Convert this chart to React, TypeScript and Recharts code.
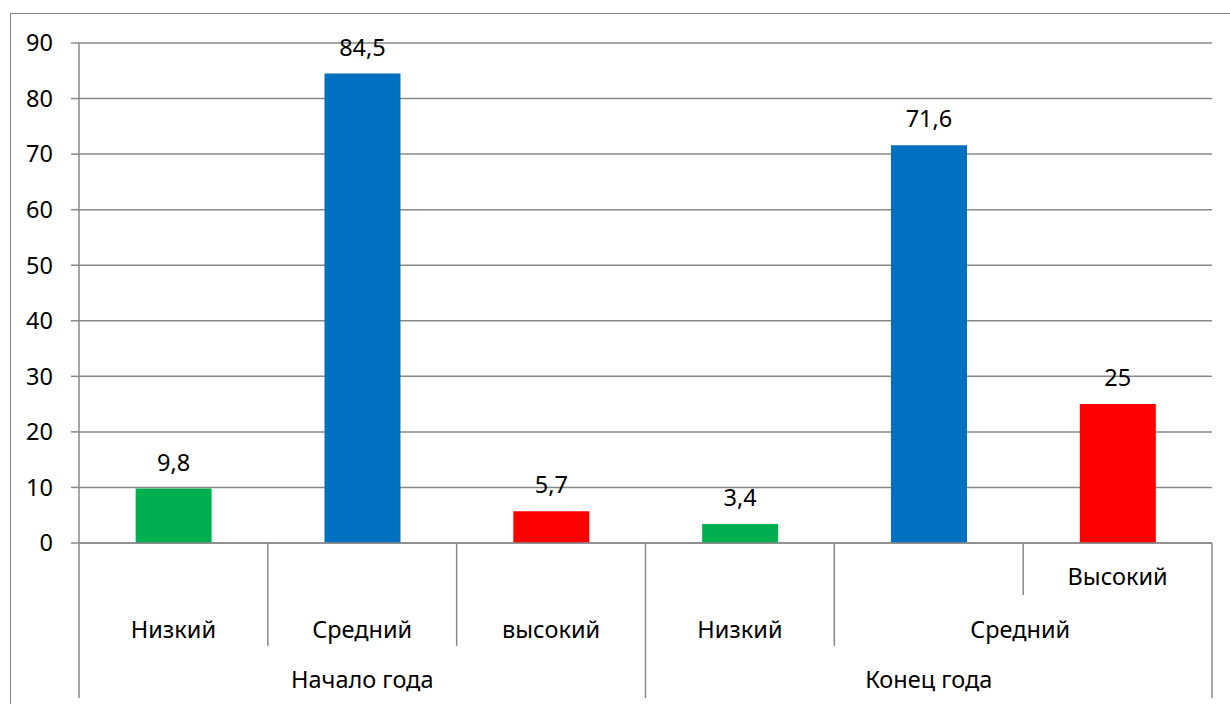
import { BarChart, Bar, XAxis, YAxis, CartesianGrid, Cell, LabelList } from 'recharts';

const levels = ['Низкий', 'Средний', 'высокий', 'Низкий', 'Средний', 'Высокий'];
const periods = ['Начало года', 'Начало года', 'Начало года', 'Конец года', 'Конец года', 'Конец года'];
const values = [9.8, 84.5, 5.7, 3.4, 71.6, 25];
const barColors = ['#00B050', '#0070C0', '#FF0000', '#00B050', '#0070C0', '#FF0000'];
const yTicks = [0, 10, 20, 30, 40, 50, 60, 70, 80, 90];

const data = values.map((v, i) => ({ id: i, level: levels[i], period: periods[i], value: v }));

const W = 1230;
const H = 704;
const margin = { top: 43, right: 18, bottom: 6, left: 19 };
const Y_AXIS_W = 60;
const X_AXIS_H = 155;
const FONT = '"Noto Sans", "Open Sans", sans-serif';
const FS = 23.5;
const GRID = '#888888';

const half = (W - margin.left - margin.right - Y_AXIS_W) / levels.length / 2;

const fmt = (v: any) => String(v).replace('.', ',');

const AxisTick = (props: any) => {
  const { x, y, payload } = props;
  const i: number = payload.index ?? payload.value;
  const n = levels.length;
  const isGroupStart = i === 0 || periods[i] !== periods[i - 1];
  // left divider length depends on how many label rows it separates
  let leftLen = 103;
  if (isGroupStart) leftLen = 155;
  if (i === n - 1) leftLen = 52;
  const textStyle = { fontFamily: FONT, fontSize: FS, fill: '#000' };

  // period label sits under the middle category of its group
  const groupIdx = periods.map((p, k) => (p === periods[i] ? k : -1)).filter((k) => k >= 0);
  const mid = groupIdx[Math.floor(groupIdx.length / 2)];

  return (
    <g>
      <line x1={x - half} x2={x - half} y1={y} y2={y + leftLen} stroke={GRID} strokeWidth={1.5} />
      {i === n - 1 && (
        <line x1={x + half} x2={x + half} y1={y} y2={y + 155} stroke={GRID} strokeWidth={1.5} />
      )}
      {i < n - 2 && (
        <text x={x} y={y + 95} textAnchor="middle" style={textStyle}>{levels[i]}</text>
      )}
      {i === n - 2 && (
        <text x={x + half - 3} y={y + 95} textAnchor="middle" style={textStyle}>{levels[i]}</text>
      )}
      {i === n - 1 && (
        <text x={x} y={y + 42} textAnchor="middle" style={textStyle}>{levels[i]}</text>
      )}
      {i === mid && (
        <text x={x} y={y + 145} textAnchor="middle" style={textStyle}>{periods[i]}</text>
      )}
    </g>
  );
};

export default function App() {
  return (
    <div style={{ position: 'absolute', left: 0, top: 0, width: W, height: H, overflow: 'hidden', background: '#fff' }}>
      <div
        style={{
          position: 'absolute',
          left: 10,
          top: 13,
          width: W + 20,
          height: H + 20,
          border: `1.5px solid ${GRID}`,
          boxSizing: 'border-box',
        }}
      />
      <div style={{ position: 'absolute', left: 0, top: 0 }}>
        <BarChart width={W} height={H} data={data} margin={margin} barCategoryGap="30%">
          <CartesianGrid vertical={false} stroke={GRID} strokeWidth={1.5} />
          <XAxis
            dataKey="id"
            type="category"
            height={X_AXIS_H}
            axisLine={{ stroke: GRID, strokeWidth: 1.5 }}
            tickLine={false}
            tickSize={0}
            tickMargin={0}
            interval={0}
            tick={<AxisTick />}
          />
          <YAxis
            width={Y_AXIS_W}
            domain={[0, 90]}
            ticks={yTicks}
            interval={0}
            axisLine={{ stroke: GRID, strokeWidth: 1.5 }}
            tickLine={{ stroke: GRID, strokeWidth: 1.5 }}
            tickSize={8}
            tickMargin={18}
            tick={{ fontFamily: FONT, fontSize: FS, fill: '#000' }}
          />
          <Bar dataKey="value" isAnimationActive={false}>
            {data.map((d, i) => (
              <Cell key={d.id} fill={barColors[i]} />
            ))}
            <LabelList
              dataKey="value"
              position="top"
              offset={18}
              formatter={fmt}
              style={{ fontFamily: FONT, fontSize: FS, fill: '#000' }}
            />
          </Bar>
        </BarChart>
      </div>
    </div>
  );
}
